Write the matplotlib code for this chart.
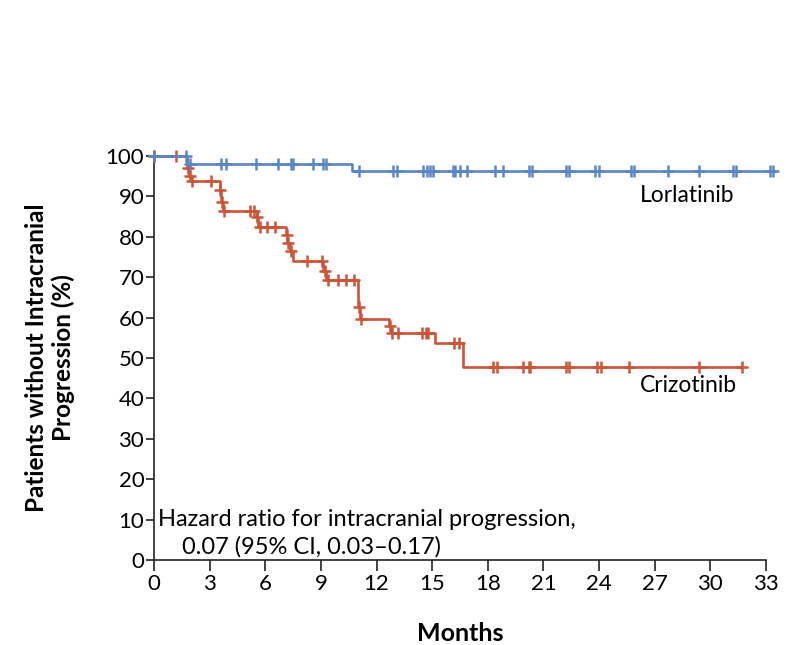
import numpy as np
import matplotlib
matplotlib.use("Agg")
import matplotlib.pyplot as plt

plt.rcParams['font.family'] = ['Lato', 'DejaVu Sans']

# Kaplan-Meier steps (months, % without intracranial progression)
lor_t = [0, 1.8, 10.7, 33.3]
lor_s = [100, 98.0, 96.4, 96.4]
lor_cens = [0, 1.75, 1.95, 3.6, 3.9, 5.5, 6.7, 7.4, 7.5, 8.6, 9.1, 9.3, 11.05,
            12.9, 13.1, 14.5, 14.7, 14.9, 15.05, 16.1, 16.25, 16.5, 16.9,
            18.4, 18.8, 20.2, 20.4, 22.2, 22.4, 23.8, 24.0, 25.7, 25.9, 27.7,
            29.4, 31.2, 31.4, 33.2, 33.4]

criz_t = [0, 1.8, 1.9, 2.0, 3.55, 3.6, 3.7, 5.55, 5.6, 7.1, 7.2, 7.35, 7.5,
          9.1, 9.3, 11.0, 11.1, 12.7, 12.8, 15.15, 16.65, 31.7]
criz_s = [100, 96.9, 95.0, 93.8, 91.6, 88.6, 86.4, 84.9, 82.4, 80.5, 78.5,
          76.5, 74.0, 71.5, 69.3, 62.6, 59.7, 58.0, 56.2, 53.7, 47.8, 47.8]
criz_cens = [0, 1.2, 1.85, 1.95, 2.05, 3.1, 3.58, 3.65, 3.75, 5.2, 5.4, 5.58,
             5.7, 6.1, 6.5, 7.15, 7.25, 7.4, 8.25, 9.05, 9.2, 9.4, 9.9, 10.35,
             10.8, 11.05, 11.15, 12.75, 12.85, 13.15, 14.45, 14.65, 14.8, 16.2,
             16.45, 18.3, 18.5, 19.9, 20.2, 20.3, 22.2, 22.4, 23.9, 24.1, 25.6,
             29.4, 31.7]

x_ticks = list(range(0, 34, 3))
y_ticks = list(range(0, 101, 10))

blue = '#5b86c6'
red = '#cc5437'


def surv_at(t, times, surv):
    idx = np.searchsorted(times, t, side='right') - 1
    return np.array(surv)[idx]


fig = plt.figure(figsize=(8.02, 6.45), dpi=100)
ax = fig.add_axes([0.192, 0.1318, 0.763, 0.6264])

for times, surv, cens, col in [(criz_t, criz_s, criz_cens, red),
                               (lor_t, lor_s, lor_cens, blue)]:
    ax.step(times, surv, where='post', color=col, lw=1.9, clip_on=False, zorder=3)
    ax.plot(cens, surv_at(cens, times, surv), ls='none', marker='+', ms=8.5,
            mew=1.8, color=col, clip_on=False, zorder=3)

ax.set_xlim(0, 33)
ax.set_ylim(0, 100)
ax.set_xticks(x_ticks)
ax.set_yticks(y_ticks)
ax.spines['top'].set_visible(False)
ax.spines['right'].set_visible(False)
for s in ['left', 'bottom']:
    ax.spines[s].set_linewidth(1.2)
    ax.spines[s].set_color('#222222')
ax.tick_params(axis='y', length=6, width=1.2, labelsize=16, pad=1, color='#222222')
ax.tick_params(axis='x', length=8, width=1.2, labelsize=16, pad=2, color='#222222')

ax.set_ylabel('Patients without Intracranial\nProgression (%)', fontsize=17.5,
              fontweight='bold', labelpad=22, linespacing=1.2)
ax.set_xlabel('Months', fontsize=18, fontweight='bold', labelpad=20)

ax.text(26.2, 90.1, 'Lorlatinib', fontsize=16.5, va='center', ha='left')
ax.text(26.2, 43.1, 'Crizotinib', fontsize=16.5, va='center', ha='left')
ax.text(0.2, 9.9, 'Hazard ratio for intracranial progression,', fontsize=17,
        va='center', ha='left')
ax.text(1.5, 3.2, '0.07 (95% CI, 0.03\u20130.17)', fontsize=17,
        va='center', ha='left')

fig.savefig('out.png', dpi=100)
